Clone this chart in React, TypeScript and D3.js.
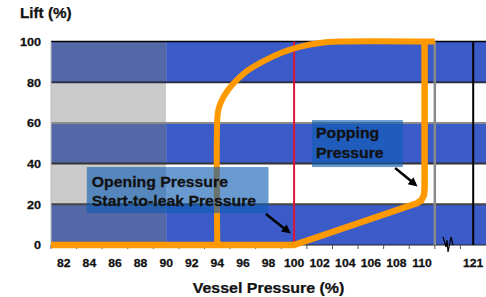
import React from "react";
import * as d3 from "d3";

const xCategories = ["82","84","86","88","90","92","94","96","98","100","102","104","106","108","110","","121"];
const yTicks = [0, 20, 40, 60, 80, 100];
const bandBreaks = [0, 20, 40, 60, 80, 100];

// Orange lift curves (vessel pressure %, lift %)
const poppingPath: [number, number][] = [
  [81, 0], [100, 0], [109.6, 20.5], [109.95, 22], [110.15, 24.5], [110.2, 28], [110.2, 100],
];
const openingPath: [number, number][] = [
  [94, 0], [94, 62], [94.1, 67], [94.5, 73], [95.2, 79], [96.2, 85], [97.5, 90],
  [99, 94.5], [100.5, 97.5], [102, 99.3], [103.5, 100], [111, 100],
];

const openBoxX = [83.8, 98.0];
const openBoxY = [38.3, 15.7];
const popBoxX = [101.4, 108.5];
const popBoxY = [61.4, 38.3];
const arrows: [number, number, number, number][] = [
  [97.8, 15.2, 99.75, 5.6],
  [107.9, 37.8, 109.65, 28.8],
];
const redLine = 100;
const greyLine = 111;
const darkSplit = 90;

const W = 486, H = 297;
const left = 51, right = 486;
const font = "'Liberation Sans', Arial, sans-serif";

export default function App() {
  const band = d3.scaleBand<string>().domain(xCategories.map((c, i) => c + "_" + i)).range([left, right]).padding(0);
  const bw = band.bandwidth();
  const x = d3.scaleLinear().domain([81, 111]).range([left, left + 15 * bw]);
  const y = d3.scaleLinear().domain([0, 100]).range([245, 41.5]);

  const curveLine = d3.line<[number, number]>().x(d => x(d[0])).y(d => y(d[1])).curve(d3.curveCatmullRom.alpha(0.5));
  const linLine = d3.line<[number, number]>().x(d => x(d[0])).y(d => y(d[1]));

  const xSplit = x(darkSplit);
  const gridColor: Record<number, string> = { 20: "#444", 40: "#333", 60: "#8a8a8a", 80: "#2a2f4a" };

  const bands = [] as React.ReactElement[];
  for (let i = 0; i < bandBreaks.length - 1; i++) {
    const lo = bandBreaks[i], hi = bandBreaks[i + 1];
    const blue = i % 2 === 0;
    bands.push(
      <rect key={"l" + i} x={left} y={y(hi)} width={xSplit - left} height={y(lo) - y(hi)} fill={blue ? "#5468a8" : "#cbcbcb"} />,
      <rect key={"r" + i} x={xSplit} y={y(hi)} width={right - xSplit} height={y(lo) - y(hi)} fill={blue ? "#3a5bc8" : "#ffffff"} />
    );
  }

  const breakIdx = 15;
  const bx = (band(xCategories[breakIdx] + "_" + breakIdx) as number) + bw / 2;
  const zig: [number, number][] = [[-4.6, -8], [-1.6, 2], [-0.6, -5], [0.4, 7], [3.4, -8], [5.4, 0]];
  const zigPath = d3.line<[number, number]>()(zig.map(d => [bx + d[0], y(0) + d[1]]) as [number, number][]);
  const cx121 = (band("121_16") as number) + bw / 2;

  const arrowHead = (x1: number, y1: number, x2: number, y2: number, k: number) => {
    const ax = x(x1), ay = y(y1), bx2 = x(x2), by = y(y2);
    const ang = Math.atan2(by - ay, bx2 - ax);
    const L = 9, Wd = 4.5;
    const p1 = [bx2 - L * Math.cos(ang) + Wd * Math.sin(ang), by - L * Math.sin(ang) - Wd * Math.cos(ang)];
    const p2 = [bx2 - L * Math.cos(ang) - Wd * Math.sin(ang), by - L * Math.sin(ang) + Wd * Math.cos(ang)];
    const sx = bx2 - (L - 1) * Math.cos(ang), sy = by - (L - 1) * Math.sin(ang);
    return (
      <g key={"a" + k}>
        <line x1={ax} y1={ay} x2={sx} y2={sy} stroke="#000" strokeWidth={2.5} />
        <polygon points={`${bx2},${by} ${p1[0]},${p1[1]} ${p2[0]},${p2[1]}`} fill="#000" />
      </g>
    );
  };

  const T = (props: { x: number; y: number; size: number; sx: number; anchor?: string; children: React.ReactNode }) => (
    <text transform={`translate(${props.x},${props.y}) scale(${props.sx},1)`} fontFamily={font} fontWeight="bold"
      fontSize={props.size} textAnchor={props.anchor || "start"} fill="#111" stroke="#111" strokeWidth={0.25}>{props.children}</text>
  );

  return (
    <svg width={W} height={H} style={{ position: "absolute", left: 0, top: 0, background: "#fff" }}>
      {bands}
      {yTicks.filter(t => t > 0 && t < 100).map(t => (
        <line key={"g" + t} x1={left} x2={right} y1={y(t)} y2={y(t)} stroke={gridColor[t]} strokeWidth={2} />
      ))}
      <line x1={left} x2={right} y1={y(100)} y2={y(100)} stroke="#000" strokeWidth={1.5} />
      <line x1={left} x2={left} y1={y(100)} y2={y(0) + 3} stroke="#bbb" strokeWidth={1} />
      <line x1={left} x2={right} y1={y(0)} y2={y(0)} stroke="#222" strokeWidth={1} />
      {xCategories.map((c, i) => {
        const px = band(c + "_" + i) as number;
        return <line key={"t" + i} x1={px} x2={px} y1={y(0)} y2={y(0) + 4} stroke="#555" strokeWidth={1} />;
      })}
      <line x1={x(redLine)} x2={x(redLine)} y1={y(100)} y2={y(0)} stroke="#dc143c" strokeWidth={2} />
      <line x1={x(greyLine)} x2={x(greyLine)} y1={y(100)} y2={y(0)} stroke="#8a8a8a" strokeWidth={2.5} />
      <line x1={cx121} x2={cx121} y1={y(100)} y2={y(0)} stroke="#000" strokeWidth={2} />
      <path d={zigPath || ""} fill="none" stroke="#000" strokeWidth={1.2} />
      <path d={linLine(poppingPath) || ""} fill="none" stroke="#ff9900" strokeWidth={6.5} strokeLinejoin="round" />
      <path d={curveLine(openingPath) || ""} fill="none" stroke="#ff9900" strokeWidth={6} strokeLinejoin="round" />
      <rect x={x(openBoxX[0])} y={y(openBoxY[0])} width={x(openBoxX[1]) - x(openBoxX[0])} height={y(openBoxY[1]) - y(openBoxY[0])}
        fill="rgb(15,93,179)" fillOpacity={0.62} />
      <rect x={x(popBoxX[0])} y={y(popBoxY[0])} width={x(popBoxX[1]) - x(popBoxX[0])} height={y(popBoxY[1]) - y(popBoxY[0])}
        fill="rgb(15,93,179)" fillOpacity={0.62} />
      <T x={x(openBoxX[0]) + 5} y={187} size={14} sx={1.13}>Opening Pressure</T>
      <T x={x(openBoxX[0]) + 5} y={205.5} size={14} sx={1.13}>Start-to-leak Pressure</T>
      <T x={x(popBoxX[0]) + 4} y={138} size={14} sx={1.13}>Popping</T>
      <T x={x(popBoxX[0]) + 4} y={157.5} size={14} sx={1.13}>Pressure</T>
      {arrows.map((a, k) => arrowHead(a[0], a[1], a[2], a[3], k))}
      {yTicks.map(t => (
        <T key={"y" + t} x={41} y={y(t) + 4.3} size={10.8} sx={1.17} anchor="end">{t}</T>
      ))}
      {xCategories.map((c, i) => (
        <T key={"x" + i} x={(band(c + "_" + i) as number) + bw / 2} y={267} size={10.5} sx={1.16} anchor="middle">{c}</T>
      ))}
      <T x={20} y={17.5} size={14} sx={1.09}>Lift (%)</T>
      <T x={268.5} y={293} size={14.5} sx={1.1} anchor="middle">Vessel Pressure (%)</T>
    </svg>
  );
}
